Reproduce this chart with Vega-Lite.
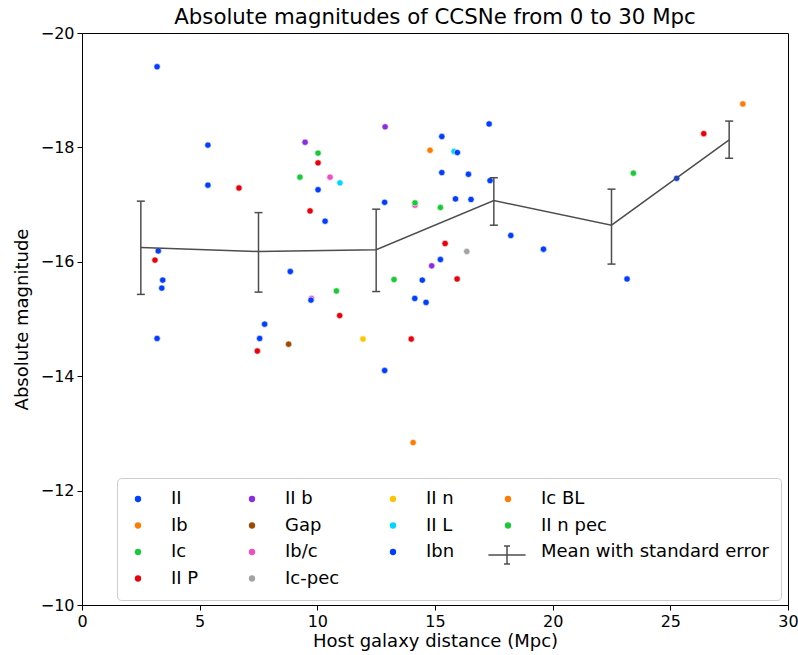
{
  "$schema": "https://vega.github.io/schema/vega-lite/v6.json",
  "width": 706,
  "height": 572,
  "autosize": {"type": "none"},
  "padding": {"left": 82, "top": 33, "right": 10, "bottom": 50},
  "background": "white",
  "title": {"text": "Absolute magnitudes of CCSNe from 0 to 30 Mpc", "fontSize": 21.3, "font": "DejaVu Sans", "fontWeight": "normal", "color": "black", "offset": -3, "frame": "group"},
  "config": {
    "view": {"stroke": "black", "strokeWidth": 1},
    "axis": {"labelFont": "DejaVu Sans", "labelFontSize": 16, "labelColor": "black", "titleFont": "DejaVu Sans", "titleFontSize": 18, "titleFontWeight": "normal", "titleColor": "black", "domainColor": "black", "tickColor": "black", "tickSize": 5, "grid": false, "labelPadding": 3, "labelFlush": false, "format": "d"},
    "axisY": {"titlePadding": 9},
    "axisX": {"titlePadding": 3}
  },
  "datasets": {
    "sn": [
      {"dist": 3.19, "mag": -19.41, "type": "II"},
      {"dist": 5.35, "mag": -18.04, "type": "II"},
      {"dist": 5.35, "mag": -17.34, "type": "II"},
      {"dist": 6.67, "mag": -17.29, "type": "II P"},
      {"dist": 9.48, "mag": -18.09, "type": "II b"},
      {"dist": 10.03, "mag": -17.90, "type": "Ic"},
      {"dist": 10.03, "mag": -17.73, "type": "II P"},
      {"dist": 9.26, "mag": -17.48, "type": "Ic"},
      {"dist": 10.03, "mag": -17.26, "type": "II"},
      {"dist": 9.69, "mag": -16.89, "type": "II P"},
      {"dist": 10.54, "mag": -17.48, "type": "Ib/c"},
      {"dist": 10.96, "mag": -17.38, "type": "II L"},
      {"dist": 10.33, "mag": -16.71, "type": "II"},
      {"dist": 12.88, "mag": -18.36, "type": "II b"},
      {"dist": 12.86, "mag": -17.04, "type": "II"},
      {"dist": 14.15, "mag": -16.99, "type": "Ib/c"},
      {"dist": 14.15, "mag": -17.03, "type": "Ic"},
      {"dist": 14.79, "mag": -17.95, "type": "Ib"},
      {"dist": 15.81, "mag": -17.93, "type": "II L"},
      {"dist": 15.95, "mag": -17.91, "type": "II"},
      {"dist": 15.29, "mag": -18.19, "type": "II"},
      {"dist": 17.30, "mag": -18.41, "type": "II"},
      {"dist": 15.29, "mag": -17.56, "type": "II"},
      {"dist": 16.42, "mag": -17.53, "type": "II"},
      {"dist": 17.34, "mag": -17.42, "type": "Ibn"},
      {"dist": 15.23, "mag": -16.95, "type": "Ic"},
      {"dist": 15.87, "mag": -17.10, "type": "II"},
      {"dist": 16.53, "mag": -17.09, "type": "II"},
      {"dist": 18.22, "mag": -16.46, "type": "II"},
      {"dist": 15.43, "mag": -16.32, "type": "II P"},
      {"dist": 16.35, "mag": -16.18, "type": "Ic-pec"},
      {"dist": 15.23, "mag": -16.04, "type": "II"},
      {"dist": 14.86, "mag": -15.93, "type": "II b"},
      {"dist": 13.26, "mag": -15.69, "type": "Ic"},
      {"dist": 14.46, "mag": -15.68, "type": "II"},
      {"dist": 15.94, "mag": -15.70, "type": "II P"},
      {"dist": 10.81, "mag": -15.49, "type": "Ic"},
      {"dist": 9.75, "mag": -15.36, "type": "Ib/c"},
      {"dist": 9.73, "mag": -15.33, "type": "II"},
      {"dist": 14.14, "mag": -15.36, "type": "II"},
      {"dist": 14.62, "mag": -15.29, "type": "II"},
      {"dist": 10.95, "mag": -15.06, "type": "II P"},
      {"dist": 11.94, "mag": -14.65, "type": "II n"},
      {"dist": 13.99, "mag": -14.65, "type": "II P"},
      {"dist": 12.86, "mag": -14.10, "type": "II"},
      {"dist": 14.07, "mag": -12.84, "type": "Ib"},
      {"dist": 3.24, "mag": -16.19, "type": "II"},
      {"dist": 3.10, "mag": -16.03, "type": "II P"},
      {"dist": 3.43, "mag": -15.68, "type": "II"},
      {"dist": 3.39, "mag": -15.54, "type": "II"},
      {"dist": 3.19, "mag": -14.66, "type": "II"},
      {"dist": 8.85, "mag": -15.83, "type": "II"},
      {"dist": 7.76, "mag": -14.91, "type": "II"},
      {"dist": 7.55, "mag": -14.66, "type": "II"},
      {"dist": 7.45, "mag": -14.44, "type": "II P"},
      {"dist": 8.78, "mag": -14.56, "type": "Gap"},
      {"dist": 19.61, "mag": -16.22, "type": "II"},
      {"dist": 23.16, "mag": -15.70, "type": "II"},
      {"dist": 23.43, "mag": -17.55, "type": "II n pec"},
      {"dist": 25.27, "mag": -17.46, "type": "II"},
      {"dist": 26.42, "mag": -18.24, "type": "II P"},
      {"dist": 28.08, "mag": -18.76, "type": "Ic BL"}
    ],
    "means": [
      {"dist": 2.5, "mean": -16.25, "lo": -17.06, "hi": -15.43},
      {"dist": 7.5, "mean": -16.18, "lo": -16.86, "hi": -15.47},
      {"dist": 12.5, "mean": -16.21, "lo": -16.92, "hi": -15.48},
      {"dist": 17.5, "mean": -17.07, "lo": -17.47, "hi": -16.64},
      {"dist": 22.5, "mean": -16.64, "lo": -17.27, "hi": -15.96},
      {"dist": 27.5, "mean": -18.13, "lo": -18.46, "hi": -17.81}
    ]
  },
  "layer": [
    {
      "data": {"name": "sn"},
      "mark": {"type": "point", "filled": true, "size": 40, "opacity": 1, "stroke": "white", "strokeWidth": 0.6},
      "encoding": {
        "x": {"field": "dist", "type": "quantitative", "title": "Host galaxy distance (Mpc)", "scale": {"domain": [0, 30], "nice": false}, "axis": {"values": [0, 5, 10, 15, 20, 25, 30]}},
        "y": {"field": "mag", "type": "quantitative", "title": "Absolute magnitude", "scale": {"domain": [-20, -10], "reverse": true, "nice": false}, "axis": {"values": [-20, -18, -16, -14, -12, -10]}},
        "color": {
          "field": "type", "type": "nominal",
          "scale": {
            "domain": ["II", "II b", "II n", "Ic BL", "Ib", "Gap", "II L", "II n pec", "Ic", "Ib/c", "Ibn", "Mean with standard error", "II P", "Ic-pec"],
            "range": ["#023eff", "#8b2be2", "#ffc400", "#ff7c00", "#ff7c00", "#9f4800", "#00d7ff", "#1ac938", "#1ac938", "#f14cc1", "#023eff", "transparent", "#e8000b", "#a3a3a3"]
          },
          "legend": {
            "title": null, "orient": "none", "legendX": 35, "legendY": 445, "columns": 4, "direction": "horizontal", "columnPadding": 44, "rowPadding": 8.5, "padding": 12,
            "labelFont": "DejaVu Sans", "labelFontSize": 18, "labelColor": "black", "labelOffset": 24, "labelLimit": 0, "symbolSize": 40,
            "symbolStrokeColor": "transparent", "symbolStrokeWidth": 0,
            "strokeColor": "#cccccc", "fillColor": "white", "cornerRadius": 4, "gridAlign": "each", "zindex": 1
          }
        }
      }
    },
    {
      "data": {"name": "means"},
      "mark": {"type": "line", "color": "#4d4d4d", "strokeWidth": 1.5},
      "encoding": {
        "x": {"field": "dist", "type": "quantitative", "title": "Host galaxy distance (Mpc)"},
        "y": {"field": "mean", "type": "quantitative", "title": "Absolute magnitude"}
      }
    },
    {
      "data": {"name": "means"},
      "mark": {"type": "rule", "color": "#4d4d4d", "strokeWidth": 1.5},
      "encoding": {
        "x": {"field": "dist", "type": "quantitative", "title": "Host galaxy distance (Mpc)"},
        "y": {"field": "lo", "type": "quantitative", "title": "Absolute magnitude"},
        "y2": {"field": "hi"},
        "strokeDash": {
          "datum": "Mean with standard error", "type": "nominal",
          "scale": {"range": [[1, 0]]},
          "legend": {
            "title": null, "orient": "none", "legendX": 416, "legendY": 513, "padding": 0,
            "symbolType": "M-6.2,0H6.2M0,-3V3M-1,-3H1M-1,3H1", "symbolSize": 36, "symbolStrokeColor": "#4d4d4d", "symbolStrokeWidth": 1.5,
            "labelExpr": "''", "labelFontSize": 18, "zindex": 2
          }
        }
      }
    },
    {
      "data": {"name": "means"},
      "mark": {"type": "tick", "orient": "horizontal", "color": "#4d4d4d", "size": 8, "thickness": 1.5, "opacity": 1},
      "encoding": {
        "x": {"field": "dist", "type": "quantitative", "title": "Host galaxy distance (Mpc)"},
        "y": {"field": "lo", "type": "quantitative", "title": "Absolute magnitude"}
      }
    },
    {
      "data": {"name": "means"},
      "mark": {"type": "tick", "orient": "horizontal", "color": "#4d4d4d", "size": 8, "thickness": 1.5, "opacity": 1},
      "encoding": {
        "x": {"field": "dist", "type": "quantitative", "title": "Host galaxy distance (Mpc)"},
        "y": {"field": "hi", "type": "quantitative", "title": "Absolute magnitude"}
      }
    }
  ]
}
